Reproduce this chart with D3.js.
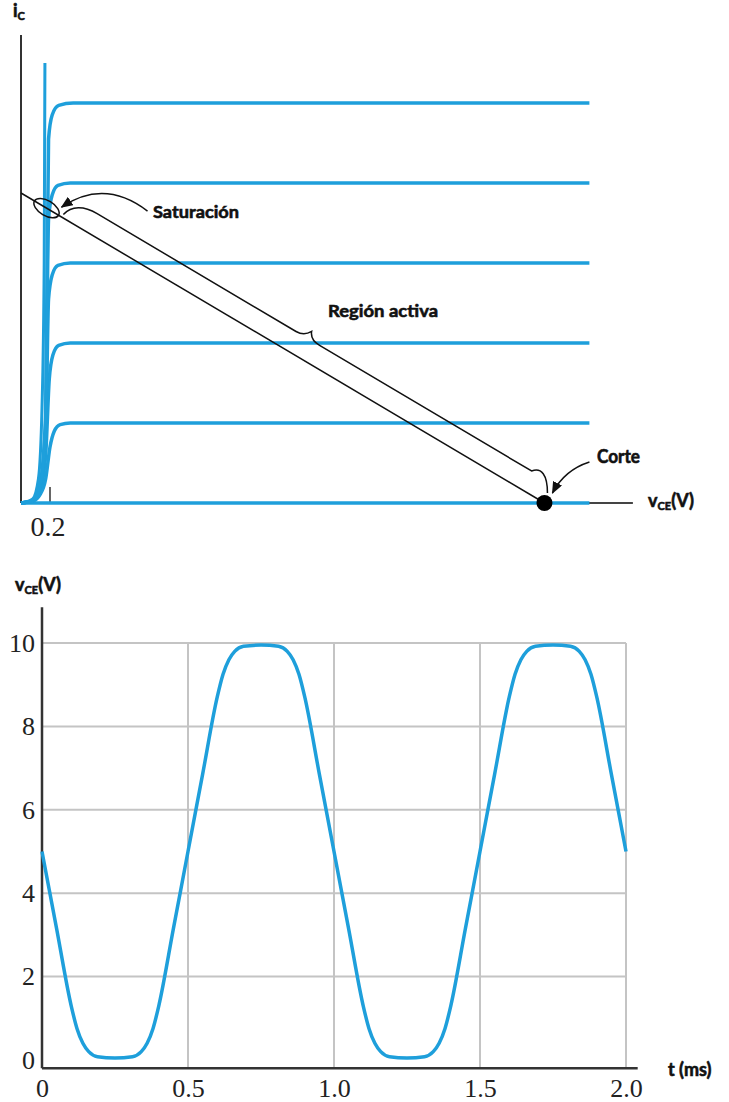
<!DOCTYPE html>
<html>
<head>
<meta charset="utf-8">
<script src="https://cdn.jsdelivr.net/npm/d3@7"></script>
<style>
  body { margin: 0; background: #fff; }
  .lab { font-family: Lato, "Open Sans", sans-serif; font-weight: 700; fill: #111; stroke: #111; stroke-width: 0.6; }
  .num { font-family: "Liberation Serif", "DejaVu Serif", serif; fill: #222; }
</style>
</head>
<body>
<div id="chart"></div>
<script>
// ---------- DATA ----------
// top: transistor output curves, vCE (V) vs iC (units of one curve step)
const icLevels = [0, 1, 2, 3, 4, 5];
const curveVce = [
  [0, 3.92],
  [0, 0.08, 0.13, 0.17, 0.20, 0.23, 0.27, 0.34, 3.92],
  [0, 0.08, 0.13, 0.17, 0.195, 0.22, 0.26, 0.34, 3.92],
  [0, 0.08, 0.13, 0.17, 0.19, 0.215, 0.255, 0.34, 3.92],
  [0, 0.08, 0.13, 0.17, 0.19, 0.215, 0.255, 0.34, 3.92],
  [0, 0.08, 0.13, 0.17, 0.19, 0.215, 0.26, 0.36, 3.92]
];
const curveIc = [
  [0, 0],
  [0, 0.02, 0.10, 0.30, 0.70, 0.90, 0.98, 1, 1],
  [0, 0.03, 0.15, 0.60, 1.55, 1.85, 1.97, 2, 2],
  [0, 0.03, 0.18, 0.80, 2.55, 2.85, 2.97, 3, 3],
  [0, 0.03, 0.20, 1.00, 3.55, 3.85, 3.97, 4, 4],
  [0, 0.03, 0.22, 1.10, 4.55, 4.85, 4.97, 5, 5]
];
const spikeVce = [0, 0.08, 0.12, 0.145, 0.16, 0.165];
const spikeIc  = [0, 0.05, 0.30, 1.20, 3.00, 5.50];
const loadVce = [0, 3.61];
const loadIc  = [3.875, 0];
const satPoint = [0.176, 3.686];
const cutPoint = [3.61, 0];
const topTick = [0.2];

// bottom: vCE(t)
const tVals = [0, 0.05, 0.10, 0.12, 0.14, 0.16, 0.19, 0.25, 0.31, 0.34, 0.36, 0.38, 0.40, 0.45, 0.50,
  0.55, 0.60, 0.62, 0.64, 0.66, 0.69, 0.75, 0.81, 0.84, 0.86, 0.88, 0.90, 0.95, 1.00,
  1.05, 1.10, 1.12, 1.14, 1.16, 1.19, 1.25, 1.31, 1.34, 1.36, 1.38, 1.40, 1.45, 1.50,
  1.55, 1.60, 1.62, 1.64, 1.66, 1.69, 1.75, 1.81, 1.84, 1.86, 1.88, 1.90, 1.95, 2.00];
const vVals = [5.0, 3.15, 1.3, 0.75, 0.4, 0.2, 0.08, 0.05, 0.08, 0.2, 0.4, 0.75, 1.3, 3.15, 5.0,
  6.85, 8.7, 9.25, 9.6, 9.8, 9.92, 9.95, 9.92, 9.8, 9.6, 9.25, 8.7, 6.85, 5.0,
  3.15, 1.3, 0.75, 0.4, 0.2, 0.08, 0.05, 0.08, 0.2, 0.4, 0.75, 1.3, 3.15, 5.0,
  6.85, 8.7, 9.25, 9.6, 9.8, 9.92, 9.95, 9.92, 9.8, 9.6, 9.25, 8.7, 6.85, 5.0];
const tTicks = [0, 0.5, 1.0, 1.5, 2.0];
const tLabels = ["0", "0.5", "1.0", "1.5", "2.0"];
const vTicks = [0, 2, 4, 6, 8, 10];
const vGrid = [2, 4, 6, 8, 10];

// ---------- SVG ----------
const width = 729, height = 1102;
const blue = "#1e9fdb";
const svg = d3.select("#chart").append("svg")
  .attr("width", width).attr("height", height);

const defs = svg.append("defs");
defs.append("marker")
  .attr("id", "head")
  .attr("viewBox", "0 0 12 10")
  .attr("refX", 11).attr("refY", 5)
  .attr("markerWidth", 12).attr("markerHeight", 10)
  .attr("markerUnits", "userSpaceOnUse")
  .attr("orient", "auto")
  .append("path").attr("d", "M0,0 L12,5 L0,10 Z").attr("fill", "#111");

// ===== TOP CHART =====
const x1 = d3.scaleLinear().domain([0, 4]).range([21, 601]);
const y1 = d3.scaleLinear().domain([0, 6]).range([503, 23]);
const gTop = svg.append("g");

// axes
gTop.append("line")
  .attr("x1", x1(0)).attr("x2", x1(0))
  .attr("y1", y1(0)).attr("y2", y1(5.85))
  .attr("stroke", "#333").attr("stroke-width", 2);
gTop.append("line")
  .attr("x1", x1(0)).attr("x2", x1(4.22))
  .attr("y1", y1(0)).attr("y2", y1(0))
  .attr("stroke", "#444").attr("stroke-width", 2);
gTop.selectAll(".tick02").data(topTick).enter().append("line")
  .attr("x1", d => x1(d)).attr("x2", d => x1(d))
  .attr("y1", y1(0)).attr("y2", y1(0.2))
  .attr("stroke", "#333").attr("stroke-width", 1.5);
gTop.selectAll(".tick02lab").data(topTick).enter().append("text")
  .attr("class", "num")
  .attr("x", d => x1(d) - 2).attr("y", 536)
  .attr("text-anchor", "middle")
  .attr("font-size", 28)
  .text(d => d);

// curves
const line1 = d3.line().curve(d3.curveMonotoneX)
  .x(d => x1(d[0])).y(d => y1(d[1]));
const curves = icLevels.map((lv, i) => curveVce[i].map((v, j) => [v, curveIc[i][j]]));
gTop.selectAll(".ccurve").data(curves).enter().append("path")
  .attr("d", line1)
  .attr("fill", "none").attr("stroke", blue).attr("stroke-width", 3.5);
gTop.append("path")
  .attr("d", line1(spikeVce.map((v, j) => [v, spikeIc[j]])))
  .attr("fill", "none").attr("stroke", blue).attr("stroke-width", 3);

// load line
gTop.append("path")
  .attr("d", d3.line().x(d => x1(d[0])).y(d => y1(d[1]))(loadVce.map((v, j) => [v, loadIc[j]])))
  .attr("stroke", "#111").attr("stroke-width", 1.5).attr("fill", "none");

// geometry along the load line (pixel space)
const A = [x1(loadVce[0]), y1(loadIc[0])];
const B = [x1(loadVce[1]), y1(loadIc[1])];
const len = Math.hypot(B[0] - A[0], B[1] - A[1]);
const dir = [(B[0] - A[0]) / len, (B[1] - A[1]) / len];
const nrm = [dir[1], -dir[0]];
const L = (s, off) => [A[0] + dir[0] * len * s + nrm[0] * off, A[1] + dir[1] * len * s + nrm[1] * off];
const ang = Math.atan2(dir[1], dir[0]) * 180 / Math.PI;

// saturation ellipse
gTop.append("ellipse")
  .attr("cx", x1(satPoint[0])).attr("cy", y1(satPoint[1]))
  .attr("rx", 14).attr("ry", 7.5)
  .attr("transform", `rotate(${ang},${x1(satPoint[0])},${y1(satPoint[1])})`)
  .attr("fill", "none").attr("stroke", "#111").attr("stroke-width", 1.5);

// brace along the active region
const cx = x1(cutPoint[0]), cy = y1(cutPoint[1]);
const p = d3.path();
let q = L(0.078, 3); p.moveTo(q[0], q[1]);
let c1 = L(0.082, 15), c2 = L(0.100, 21); q = L(0.125, 21);
p.bezierCurveTo(c1[0], c1[1], c2[0], c2[1], q[0], q[1]);
q = L(0.505, 21); p.lineTo(q[0], q[1]);
c1 = L(0.52, 21); q = L(0.527, 29); p.quadraticCurveTo(c1[0], c1[1], q[0], q[1]);
c1 = L(0.532, 21); q = L(0.55, 21); p.quadraticCurveTo(c1[0], c1[1], q[0], q[1]);
q = L(0.955, 21); p.lineTo(q[0], q[1]);
p.bezierCurveTo(cx - 3, cy - 36, cx + 3, cy - 28, cx + 3, cy - 10);
gTop.append("path").attr("d", p.toString())
  .attr("fill", "none").attr("stroke", "#111").attr("stroke-width", 1.5);

// cut-off dot
gTop.append("circle").attr("cx", cx).attr("cy", cy).attr("r", 8).attr("fill", "#000");

// arrows
const sx = x1(satPoint[0]), sy = y1(satPoint[1]);
gTop.append("path")
  .attr("d", `M${sx + 101},${sy + 3} Q${sx + 58},${sy - 30} ${sx + 15},${sy - 1}`)
  .attr("fill", "none").attr("stroke", "#111").attr("stroke-width", 1.5)
  .attr("marker-end", "url(#head)");
gTop.append("path")
  .attr("d", `M${cx + 45},${cy - 41} Q${cx + 20},${cy - 33} ${cx + 8},${cy - 10}`)
  .attr("fill", "none").attr("stroke", "#111").attr("stroke-width", 1.5)
  .attr("marker-end", "url(#head)");

// labels
gTop.append("text").attr("class", "lab").attr("x", 153).attr("y", 218)
  .attr("font-size", 17).attr("textLength", 86).attr("lengthAdjust", "spacingAndGlyphs")
  .text("Saturación");
gTop.append("text").attr("class", "lab").attr("x", 328).attr("y", 317)
  .attr("font-size", 17).attr("textLength", 110).attr("lengthAdjust", "spacingAndGlyphs")
  .text("Región activa");
gTop.append("text").attr("class", "lab").attr("x", 597).attr("y", 463)
  .attr("font-size", 18).attr("textLength", 43).attr("lengthAdjust", "spacingAndGlyphs")
  .text("Corte");
const vlab1 = gTop.append("text").attr("class", "lab").attr("x", 648).attr("y", 507).attr("font-size", 18);
vlab1.append("tspan").text("v");
vlab1.append("tspan").attr("font-size", 11).attr("dy", 3).text("CE");
vlab1.append("tspan").attr("dy", -3).text("(V)");
const ilab = gTop.append("text").attr("class", "lab").attr("x", 13).attr("y", 17).attr("font-size", 18);
ilab.append("tspan").text("i");
ilab.append("tspan").attr("font-size", 11).attr("dy", 3).text("C");

// ===== BOTTOM CHART =====
const x2 = d3.scaleLinear().domain([0, 2]).range([42, 626]);
const y2 = d3.scaleLinear().domain([0, 10]).range([1060, 643]);
const gBot = svg.append("g");

// grid
gBot.selectAll(".hgrid").data(vGrid).enter().append("line")
  .attr("x1", x2(0)).attr("x2", x2(2))
  .attr("y1", d => y2(d)).attr("y2", d => y2(d))
  .attr("stroke", "#c4c4c4").attr("stroke-width", 2);
gBot.selectAll(".vgrid").data(tTicks.slice(1)).enter().append("line")
  .attr("x1", d => x2(d)).attr("x2", d => x2(d))
  .attr("y1", y2(10)).attr("y2", y2(-0.2))
  .attr("stroke", "#c4c4c4").attr("stroke-width", 2);

// axes lines
gBot.append("line").attr("x1", x2(0)).attr("x2", x2(0))
  .attr("y1", y2(-0.2)).attr("y2", y2(10.86))
  .attr("stroke", "#333").attr("stroke-width", 2.5);
gBot.append("line").attr("x1", x2(0)).attr("x2", x2(2.04))
  .attr("y1", y2(-0.2)).attr("y2", y2(-0.2))
  .attr("stroke", "#333").attr("stroke-width", 2.5);

// tick labels via d3 axes
const xAxis = gBot.append("g")
  .attr("transform", `translate(0,${y2(-0.2)})`)
  .call(d3.axisBottom(x2).tickValues(tTicks).tickFormat((d, i) => tLabels[i]).tickSize(0).tickPadding(10));
const yAxis = gBot.append("g")
  .attr("transform", `translate(${x2(0) - 4},0)`)
  .call(d3.axisLeft(y2).tickValues(vTicks).tickSize(0).tickPadding(3));
[xAxis, yAxis].forEach(a => {
  a.select(".domain").remove();
  a.selectAll("text").attr("class", "num").attr("font-size", 26).attr("fill", "#222");
});

// waveform
gBot.append("path")
  .attr("d", d3.line().curve(d3.curveMonotoneX)
    .x(d => x2(d[0])).y(d => y2(d[1]))(tVals.map((t, i) => [t, vVals[i]])))
  .attr("fill", "none").attr("stroke", blue).attr("stroke-width", 3.5);

// labels
const vlab2 = gBot.append("text").attr("class", "lab").attr("x", 15).attr("y", 591).attr("font-size", 18);
vlab2.append("tspan").text("v");
vlab2.append("tspan").attr("font-size", 11).attr("dy", 3).text("CE");
vlab2.append("tspan").attr("dy", -3).text("(V)");
gBot.append("text").attr("class", "lab").attr("x", 668).attr("y", 1076)
  .attr("font-size", 18).text("t (ms)");
</script>
</body>
</html>
